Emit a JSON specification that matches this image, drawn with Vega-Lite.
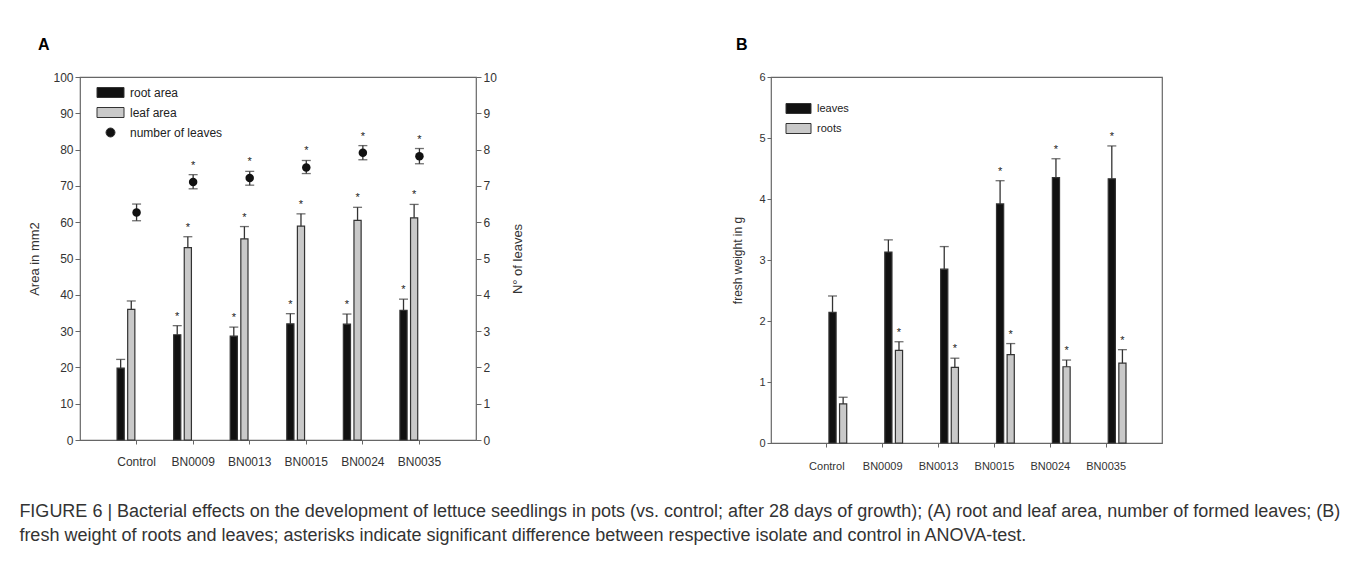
{
  "$schema": "https://vega.github.io/schema/vega-lite/v6.json",
  "background": "white",
  "padding": {"left": 19, "top": 36, "right": 5, "bottom": 5},
  "config": {
    "font": "Liberation Sans",
    "view": {"stroke": "#666", "strokeWidth": 1.2},
    "axis": {"labelColor": "#333", "titleColor": "#333", "domainColor": "#666", "tickColor": "#666", "grid": false, "titleFontWeight": "normal", "domain": false},
    "legend": {"labelColor": "#222"}
  },
  "resolve": {"scale": {"color": "independent"}},
  "datasets": {
    "areaA": [
      {"strain": "Control", "series": "root area", "value": 19.8, "upper": 22.2, "sig": false},
      {"strain": "BN0009", "series": "root area", "value": 29.0, "upper": 31.5, "sig": true},
      {"strain": "BN0013", "series": "root area", "value": 28.6, "upper": 31.1, "sig": true},
      {"strain": "BN0015", "series": "root area", "value": 32.0, "upper": 34.8, "sig": true},
      {"strain": "BN0024", "series": "root area", "value": 31.9, "upper": 34.7, "sig": true},
      {"strain": "BN0035", "series": "root area", "value": 35.7, "upper": 38.8, "sig": true},
      {"strain": "Control", "series": "leaf area", "value": 36.0, "upper": 38.3, "sig": false},
      {"strain": "BN0009", "series": "leaf area", "value": 53.0, "upper": 56.0, "sig": true},
      {"strain": "BN0013", "series": "leaf area", "value": 55.4, "upper": 58.8, "sig": true},
      {"strain": "BN0015", "series": "leaf area", "value": 58.9, "upper": 62.3, "sig": true},
      {"strain": "BN0024", "series": "leaf area", "value": 60.5, "upper": 64.1, "sig": true},
      {"strain": "BN0035", "series": "leaf area", "value": 61.2, "upper": 64.9, "sig": true}
    ],
    "leavesA": [
      {"strain": "Control", "series": "number of leaves", "count": 6.27, "lower": 6.04, "upper": 6.50, "sig": false},
      {"strain": "BN0009", "series": "number of leaves", "count": 7.11, "lower": 6.92, "upper": 7.31, "sig": true},
      {"strain": "BN0013", "series": "number of leaves", "count": 7.22, "lower": 7.02, "upper": 7.40, "sig": true},
      {"strain": "BN0015", "series": "number of leaves", "count": 7.51, "lower": 7.34, "upper": 7.70, "sig": true},
      {"strain": "BN0024", "series": "number of leaves", "count": 7.91, "lower": 7.72, "upper": 8.11, "sig": true},
      {"strain": "BN0035", "series": "number of leaves", "count": 7.82, "lower": 7.61, "upper": 8.03, "sig": true}
    ],
    "weightB": [
      {"strain": "Control", "series": "leaves", "value": 2.14, "upper": 2.41, "sig": false},
      {"strain": "BN0009", "series": "leaves", "value": 3.13, "upper": 3.33, "sig": false},
      {"strain": "BN0013", "series": "leaves", "value": 2.85, "upper": 3.22, "sig": false},
      {"strain": "BN0015", "series": "leaves", "value": 3.92, "upper": 4.30, "sig": true},
      {"strain": "BN0024", "series": "leaves", "value": 4.35, "upper": 4.66, "sig": true},
      {"strain": "BN0035", "series": "leaves", "value": 4.33, "upper": 4.87, "sig": true},
      {"strain": "Control", "series": "roots", "value": 0.64, "upper": 0.75, "sig": false},
      {"strain": "BN0009", "series": "roots", "value": 1.52, "upper": 1.66, "sig": true},
      {"strain": "BN0013", "series": "roots", "value": 1.24, "upper": 1.39, "sig": true},
      {"strain": "BN0015", "series": "roots", "value": 1.45, "upper": 1.63, "sig": true},
      {"strain": "BN0024", "series": "roots", "value": 1.25, "upper": 1.36, "sig": true},
      {"strain": "BN0035", "series": "roots", "value": 1.31, "upper": 1.53, "sig": true}
    ]
  },
  "title": {
    "text": [
      "FIGURE 6 | Bacterial effects on the development of lettuce seedlings in pots (vs. control; after 28 days of growth); (A) root and leaf area, number of formed leaves; (B)",
      "fresh weight of roots and leaves; asterisks indicate significant difference between respective isolate and control in ANOVA-test."
    ],
    "orient": "bottom",
    "anchor": "start",
    "frame": "bounds",
    "fontSize": 18,
    "fontWeight": "normal",
    "color": "#333",
    "lineHeight": 24,
    "offset": 31,
    "dx": -9
  },
  "spacing": 206,
  "hconcat": [
    {
      "width": 396,
      "height": 363,
      "title": {"text": "A", "anchor": "start", "frame": "group", "dx": -42, "offset": 18, "fontSize": 16, "fontWeight": "bold", "color": "#000"},
      "layer": [
        {
          "data": {"name": "areaA"},
          "encoding": {
            "x": {"field": "strain", "type": "nominal", "sort": null, "title": null,
              "scale": {"domain": ["Control", "BN0009", "BN0013", "BN0015", "BN0024", "BN0035"], "paddingInner": 0, "paddingOuter": 0.5},
              "axis": {"labelAngle": 0, "labelFontSize": 12, "tickSize": 4, "labelPadding": 12}},
            "xOffset": {"field": "series", "type": "nominal", "sort": null,
              "scale": {"domain": ["root area", "leaf area"], "paddingInner": 0.324, "paddingOuter": 0.827}}
          },
          "layer": [
            {
              "mark": {"type": "bar", "stroke": "#333", "strokeWidth": 1.2},
              "encoding": {
                "y": {"field": "value", "type": "quantitative", "title": "Area in mm2",
                  "scale": {"domain": [0, 100]},
                  "axis": {"orient": "left", "values": [0, 10, 20, 30, 40, 50, 60, 70, 80, 90, 100], "format": "d", "labelFontSize": 12, "tickSize": 5, "labelPadding": 2, "titleFontSize": 13, "titlePadding": 11}},
                "color": {"field": "series", "type": "nominal",
                  "scale": {"domain": ["root area", "leaf area", "number of leaves"], "range": ["#111111", "#c9c9c9", "#111111"]},
                  "legend": {"orient": "none", "legendX": 20, "legendY": 5, "title": null, "labelFontSize": 12, "symbolSize": 400, "rowPadding": 2, "labelOffset": 9, "symbolStrokeColor": "#333", "symbolStrokeWidth": 1,
                    "encode": {"symbols": {"update": {"shape": {"signal": "datum.value === 'number of leaves' ? 'M-0.45,0A0.45,0.45 0 1,0 0.45,0A0.45,0.45 0 1,0 -0.45,0Z' : 'M-1.35,-0.5H1.35V0.5H-1.35Z'"}}}}}}
              }
            },
            {
              "mark": {"type": "rule", "color": "#333", "strokeWidth": 1.3},
              "encoding": {
                "y": {"field": "value", "type": "quantitative", "title": "Area in mm2",
                  "axis": {"orient": "left", "values": [0, 10, 20, 30, 40, 50, 60, 70, 80, 90, 100], "format": "d", "labelFontSize": 12, "tickSize": 5, "labelPadding": 2, "titleFontSize": 13, "titlePadding": 11}},
                "y2": {"field": "upper"}
              }
            },
            {
              "mark": {"type": "tick", "color": "#333", "thickness": 1.3, "size": 9},
              "encoding": {"y": {"field": "upper", "type": "quantitative", "title": "Area in mm2",
                "axis": {"orient": "left", "values": [0, 10, 20, 30, 40, 50, 60, 70, 80, 90, 100], "format": "d", "labelFontSize": 12, "tickSize": 5, "labelPadding": 2, "titleFontSize": 13, "titlePadding": 11}}}
            },
            {
              "transform": [{"filter": "datum.sig"}],
              "mark": {"type": "text", "text": "*", "fontSize": 11, "baseline": "alphabetic", "dy": -6, "color": "#222"},
              "encoding": {"y": {"field": "upper", "type": "quantitative", "title": "Area in mm2",
                "axis": {"orient": "left", "values": [0, 10, 20, 30, 40, 50, 60, 70, 80, 90, 100], "format": "d", "labelFontSize": 12, "tickSize": 5, "labelPadding": 2, "titleFontSize": 13, "titlePadding": 11}}}
            }
          ]
        },
        {
          "data": {"name": "leavesA"},
          "encoding": {
            "x": {"field": "strain", "type": "nominal", "sort": null, "title": null}
          },
          "layer": [
            {
              "mark": {"type": "rule", "color": "#333", "strokeWidth": 1.3},
              "encoding": {
                "y": {"field": "lower", "type": "quantitative", "title": "N° of leaves",
                  "scale": {"domain": [0, 10]},
                  "axis": {"orient": "right", "values": [0, 1, 2, 3, 4, 5, 6, 7, 8, 9, 10], "format": "d", "labelFontSize": 12, "tickSize": 5, "labelPadding": 2, "titleFontSize": 13, "titlePadding": 28, "titleAngle": 270}},
                "y2": {"field": "upper"}
              }
            },
            {
              "mark": {"type": "tick", "color": "#333", "thickness": 1.3, "size": 9},
              "encoding": {"y": {"field": "upper", "type": "quantitative", "title": "N° of leaves",
                "axis": {"orient": "right", "values": [0, 1, 2, 3, 4, 5, 6, 7, 8, 9, 10], "format": "d", "labelFontSize": 12, "tickSize": 5, "labelPadding": 2, "titleFontSize": 13, "titlePadding": 28, "titleAngle": 270}}}
            },
            {
              "mark": {"type": "tick", "color": "#333", "thickness": 1.3, "size": 9},
              "encoding": {"y": {"field": "lower", "type": "quantitative", "title": "N° of leaves",
                "axis": {"orient": "right", "values": [0, 1, 2, 3, 4, 5, 6, 7, 8, 9, 10], "format": "d", "labelFontSize": 12, "tickSize": 5, "labelPadding": 2, "titleFontSize": 13, "titlePadding": 28, "titleAngle": 270}}}
            },
            {
              "mark": {"type": "circle", "size": 72, "opacity": 1},
              "encoding": {
                "y": {"field": "count", "type": "quantitative", "title": "N° of leaves",
                  "axis": {"orient": "right", "values": [0, 1, 2, 3, 4, 5, 6, 7, 8, 9, 10], "format": "d", "labelFontSize": 12, "tickSize": 5, "labelPadding": 2, "titleFontSize": 13, "titlePadding": 28, "titleAngle": 270}},
                "color": {"field": "series", "type": "nominal"}
              }
            },
            {
              "transform": [{"filter": "datum.sig"}],
              "mark": {"type": "text", "text": "*", "fontSize": 11, "baseline": "alphabetic", "dy": -6, "color": "#222"},
              "encoding": {"y": {"field": "upper", "type": "quantitative", "title": "N° of leaves",
                "axis": {"orient": "right", "values": [0, 1, 2, 3, 4, 5, 6, 7, 8, 9, 10], "format": "d", "labelFontSize": 12, "tickSize": 5, "labelPadding": 2, "titleFontSize": 13, "titlePadding": 28, "titleAngle": 270}}}
            }
          ]
        }
      ],
      "resolve": {"scale": {"y": "independent"}}
    },
    {
      "width": 391,
      "height": 366,
      "title": {"text": "B", "anchor": "start", "frame": "group", "dx": -35, "offset": 18, "fontSize": 16, "fontWeight": "bold", "color": "#000"},
      "data": {"name": "weightB"},
      "encoding": {
        "x": {"field": "strain", "type": "nominal", "sort": null, "title": null,
          "scale": {"domain": ["Control", "BN0009", "BN0013", "BN0015", "BN0024", "BN0035"], "paddingInner": 0, "paddingOuter": 0.5},
          "axis": {"labelAngle": 0, "labelFontSize": 11, "tickSize": 4, "labelPadding": 13}},
        "xOffset": {"field": "series", "type": "nominal", "sort": null,
          "scale": {"domain": ["leaves", "roots"], "paddingInner": 0.324, "paddingOuter": 0.82}}
      },
      "layer": [
        {
          "mark": {"type": "bar", "stroke": "#333", "strokeWidth": 1.2},
          "encoding": {
            "y": {"field": "value", "type": "quantitative", "title": "fresh weight in g",
              "scale": {"domain": [0, 6]},
              "axis": {"values": [0, 1, 2, 3, 4, 5, 6], "format": "d", "labelFontSize": 11, "tickSize": 4, "labelPadding": 2, "titleFontSize": 12, "titlePadding": 14}},
            "color": {"field": "series", "type": "nominal",
              "scale": {"domain": ["leaves", "roots"], "range": ["#111111", "#c9c9c9"]},
              "legend": {"orient": "none", "legendX": 17, "legendY": 21, "title": null, "labelFontSize": 11, "symbolSize": 400, "rowPadding": 2, "labelOffset": 8, "symbolStrokeColor": "#333", "symbolStrokeWidth": 1,
                "encode": {"symbols": {"update": {"shape": {"value": "M-1.25,-0.5H1.25V0.5H-1.25Z"}}}}}}
          }
        },
        {
          "mark": {"type": "rule", "color": "#333", "strokeWidth": 1.3},
          "encoding": {
            "y": {"field": "value", "type": "quantitative", "title": "fresh weight in g",
              "axis": {"values": [0, 1, 2, 3, 4, 5, 6], "format": "d", "labelFontSize": 11, "tickSize": 4, "labelPadding": 2, "titleFontSize": 12, "titlePadding": 14}},
            "y2": {"field": "upper"}
          }
        },
        {
          "mark": {"type": "tick", "color": "#333", "thickness": 1.3, "size": 9},
          "encoding": {"y": {"field": "upper", "type": "quantitative", "title": "fresh weight in g",
            "axis": {"values": [0, 1, 2, 3, 4, 5, 6], "format": "d", "labelFontSize": 11, "tickSize": 4, "labelPadding": 2, "titleFontSize": 12, "titlePadding": 14}}}
        },
        {
          "transform": [{"filter": "datum.sig"}],
          "mark": {"type": "text", "text": "*", "fontSize": 11, "baseline": "alphabetic", "dy": -6, "color": "#222"},
          "encoding": {"y": {"field": "upper", "type": "quantitative", "title": "fresh weight in g",
            "axis": {"values": [0, 1, 2, 3, 4, 5, 6], "format": "d", "labelFontSize": 11, "tickSize": 4, "labelPadding": 2, "titleFontSize": 12, "titlePadding": 14}}}
        }
      ]
    }
  ]
}
